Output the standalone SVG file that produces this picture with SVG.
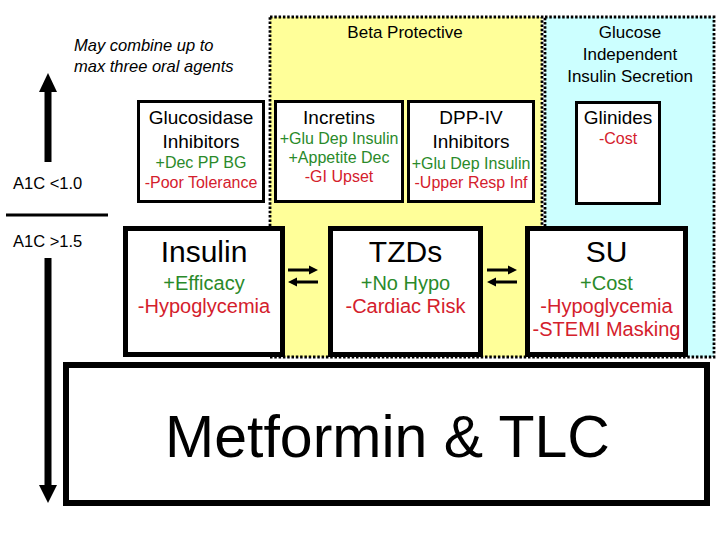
<svg xmlns="http://www.w3.org/2000/svg" width="720" height="540" viewBox="0 0 720 540">
<style>
text{font-family:"Liberation Sans",Arial,sans-serif;fill:#000;text-anchor:middle}
.g{fill:#2a8a2a}
.r{fill:#d4202c}
.region{stroke:#000;stroke-width:2.8;stroke-dasharray:2.5 1.8}
.small{fill:#fff;stroke:#000;stroke-width:3}
.big{fill:#fff;stroke:#000;stroke-width:5}
.t19{font-size:19px}
.t15{font-size:16px}
.t30{font-size:30px}
.t20{font-size:20px}
.conn{stroke:#000;stroke-width:3;fill:none}
.head{fill:#000}
</style>
<rect width="720" height="540" fill="#fff"/>

<g id="beta-protective">
<rect class="region" x="270" y="17" width="272" height="340" fill="#ffff99"/>
<text x="405" y="38" style="font-size:17px">Beta Protective</text>
</g>
<g id="glucose-independent">
<rect class="region" x="545" y="17" width="169" height="340" fill="#ccffff"/>
<text x="630" y="38" style="font-size:17px">Glucose</text>
<text x="630" y="60" style="font-size:17px">Independent</text>
<text x="630" y="82" style="font-size:17px">Insulin Secretion</text>
</g>

<g id="note">
<text x="74" y="51" style="font-size:16.5px;font-style:italic;text-anchor:start">May combine up to</text>
<text x="74" y="72" style="font-size:16.5px;font-style:italic;text-anchor:start">max three oral agents</text>
</g>

<g id="a1c-labels">
<text x="13" y="189" style="font-size:16.5px;text-anchor:start">A1C &lt;1.0</text>
<line x1="6" y1="215" x2="108" y2="215" stroke="#000" stroke-width="3"/>
<text x="13" y="247" style="font-size:16.5px;text-anchor:start">A1C &gt;1.5</text>
</g>

<g id="glucosidase">
<rect class="small" x="138.5" y="101.5" width="125" height="100"/>
<text x="201" y="124" class="t19">Glucosidase</text>
<text x="201" y="148" class="t19">Inhibitors</text>
<text x="201" y="168" class="t15 g">+Dec PP BG</text>
<text x="201" y="188" class="t15 r">-Poor Tolerance</text>
</g>
<g id="incretins">
<rect class="small" x="275.5" y="101.5" width="127" height="100"/>
<text x="339" y="124" class="t19">Incretins</text>
<text x="339" y="144" class="t15 g">+Glu Dep Insulin</text>
<text x="339" y="163" class="t15 g">+Appetite Dec</text>
<text x="339" y="182" class="t15 r">-GI Upset</text>
</g>
<g id="dpp4">
<rect class="small" x="408.5" y="101.5" width="125" height="100"/>
<text x="471" y="124" class="t19">DPP-IV</text>
<text x="471" y="148" class="t19">Inhibitors</text>
<text x="471" y="169" class="t15 g">+Glu Dep Insulin</text>
<text x="471" y="188" class="t15 r">-Upper Resp Inf</text>
</g>
<g id="glinides">
<rect class="small" x="576.5" y="102.5" width="83" height="101"/>
<text x="618" y="124" class="t19">Glinides</text>
<text x="618" y="144" class="t15 r">-Cost</text>
</g>

<g id="insulin">
<rect class="big" x="125.5" y="228.5" width="157" height="126"/>
<text x="204" y="262" class="t30">Insulin</text>
<text x="204" y="290" class="t20 g">+Efficacy</text>
<text x="204" y="313" class="t20 r">-Hypoglycemia</text>
</g>
<g id="tzds">
<rect class="big" x="330.5" y="228.5" width="150" height="126"/>
<text x="405.5" y="262" class="t30">TZDs</text>
<text x="405.5" y="290" class="t20 g">+No Hypo</text>
<text x="405.5" y="313" class="t20 r">-Cardiac Risk</text>
</g>
<g id="su">
<rect class="big" x="527.5" y="228.5" width="158" height="126"/>
<text x="606.5" y="262" class="t30">SU</text>
<text x="606.5" y="290" class="t20 g">+Cost</text>
<text x="606.5" y="313" class="t20 r">-Hypoglycemia</text>
<text x="606.5" y="336" class="t20 r">-STEMI Masking</text>
</g>

<g id="metformin">
<rect x="66" y="365" width="641" height="138" fill="#fff" stroke="#000" stroke-width="6"/>
<text x="387.5" y="457" style="font-size:59px">Metformin &amp; TLC</text>
</g>

<g id="connectors">
<line class="conn" x1="288" y1="270" x2="310" y2="270"/>
<polygon class="head" points="318,270 309,265.5 309,274.5"/>
<line class="conn" x1="318" y1="282" x2="296" y2="282"/>
<polygon class="head" points="288,282 297,277.5 297,286.5"/>
<line class="conn" x1="487" y1="270" x2="509" y2="270"/>
<polygon class="head" points="517,270 508,265.5 508,274.5"/>
<line class="conn" x1="517" y1="282" x2="495" y2="282"/>
<polygon class="head" points="487,282 496,277.5 496,286.5"/>
<line x1="48" y1="162" x2="48" y2="90" stroke="#000" stroke-width="7"/>
<polygon class="head" points="48,73 39,92 57,92"/>
<line x1="48" y1="258" x2="48" y2="487" stroke="#000" stroke-width="7"/>
<polygon class="head" points="39,485 57,485 48,503"/>
</g>
</svg>
